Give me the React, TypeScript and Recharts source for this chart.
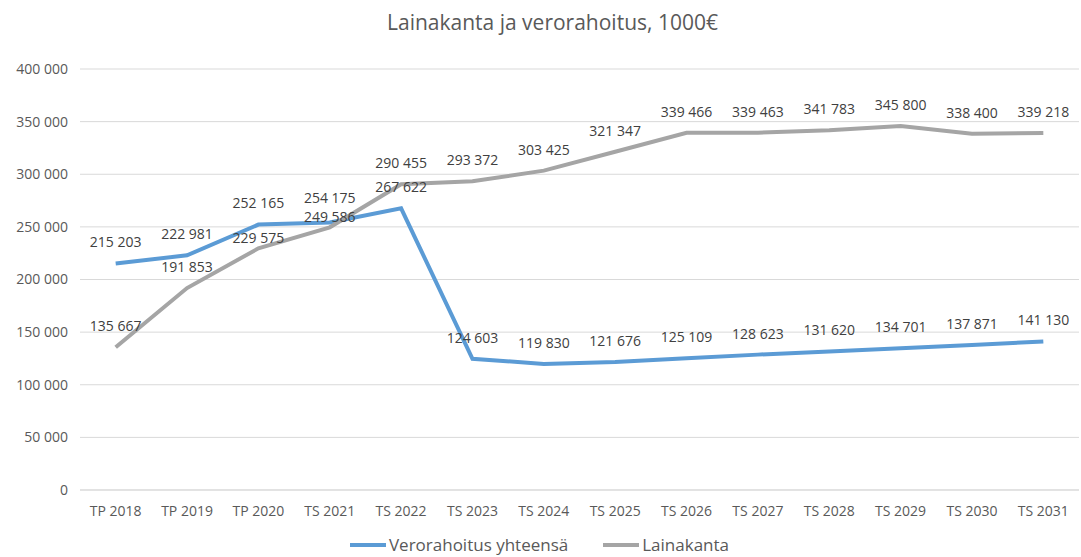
import { LineChart, Line, XAxis, YAxis, CartesianGrid, Legend, LabelList } from 'recharts';

const categories = [
  'TP 2018', 'TP 2019', 'TP 2020', 'TS 2021', 'TS 2022', 'TS 2023', 'TS 2024',
  'TS 2025', 'TS 2026', 'TS 2027', 'TS 2028', 'TS 2029', 'TS 2030', 'TS 2031',
];
const verorahoitus = [
  215203, 222981, 252165, 254175, 267622, 124603, 119830,
  121676, 125109, 128623, 131620, 134701, 137871, 141130,
];
const lainakanta = [
  135667, 191853, 229575, 249586, 290455, 293372, 303425,
  321347, 339466, 339463, 341783, 345800, 338400, 339218,
];
const yTicks = [0, 50000, 100000, 150000, 200000, 250000, 300000, 350000, 400000];

const data = categories.map((name, i) => ({
  name,
  vero: verorahoitus[i],
  laina: lainakanta[i],
}));

const BLUE = '#5B9BD5';
const GRAY = '#A5A5A5';
const FONT = '"Open Sans", sans-serif';

// the source chart nudged a couple of crowded labels closer to their line
const blueNudge: Record<number, number> = { 3: -3 };
const grayNudge: Record<number, number> = { 2: 11, 3: 11 };

const fmt = (v: number | string) =>
  String(v).replace(/\B(?=(\d{3})+(?!\d))/g, ' ');

function makeLabel(nudge: Record<number, number>) {
  return function PointLabel(props: any) {
    const { x, y, value, index } = props;
    const lift = 21 - (nudge[index] || 0);
    return (
      <text
        x={x}
        y={y - lift}
        dy="0.35em"
        textAnchor="middle"
        fontSize={14}
        fill="#404040"
        fontFamily={FONT}
      >
        {fmt(value)}
      </text>
    );
  };
}

function LegendContent() {
  const items = [
    { label: 'Verorahoitus yhteensä', color: BLUE },
    { label: 'Lainakanta', color: GRAY },
  ];
  return (
    <div style={{ display: 'flex', justifyContent: 'center', gap: 35, fontFamily: FONT, fontSize: 17, color: '#595959' }}>
      {items.map((it) => (
        <div key={it.label} style={{ display: 'flex', alignItems: 'center' }}>
          <span style={{ display: 'inline-block', width: 36, height: 4, background: it.color, marginRight: 3 }} />
          <span>{it.label}</span>
        </div>
      ))}
    </div>
  );
}

export default function App() {
  return (
    <div style={{ position: 'absolute', left: 0, top: 0, width: 1081, height: 557, background: '#fff', overflow: 'hidden' }}>
      <div
        style={{
          position: 'absolute', top: 8, left: 12, width: 1081, textAlign: 'center',
          fontFamily: FONT, fontSize: 21, color: '#595959',
        }}
      >
        Lainakanta ja verorahoitus, 1000€
      </div>
      <LineChart
        width={1081}
        height={557}
        data={data}
        margin={{ top: 69, right: 2, left: 0, bottom: 12 }}
      >
        <CartesianGrid vertical={false} stroke="#D9D9D9" />
        <XAxis
          dataKey="name"
          scale="band"
          axisLine={{ stroke: '#D9D9D9' }}
          tickLine={false}
          height={32}
          tickMargin={10}
          tick={{ fontSize: 14, fill: '#595959', fontFamily: FONT }}
          interval={0}
        />
        <YAxis
          domain={[0, 400000]}
          ticks={yTicks}
          width={80}
          axisLine={false}
          tickLine={false}
          tickMargin={6}
          tickFormatter={fmt}
          tick={{ fontSize: 14, fill: '#595959', fontFamily: FONT }}
        />
        <Legend verticalAlign="bottom" content={<LegendContent />} wrapperStyle={{ bottom: 1 }} />
        <Line
          dataKey="vero"
          name="Verorahoitus yhteensä"
          stroke={BLUE}
          strokeWidth={4}
          dot={false}
          isAnimationActive={false}
        >
          <LabelList dataKey="vero" content={makeLabel(blueNudge)} />
        </Line>
        <Line
          dataKey="laina"
          name="Lainakanta"
          stroke={GRAY}
          strokeWidth={4}
          dot={false}
          isAnimationActive={false}
        >
          <LabelList dataKey="laina" content={makeLabel(grayNudge)} />
        </Line>
      </LineChart>
    </div>
  );
}
